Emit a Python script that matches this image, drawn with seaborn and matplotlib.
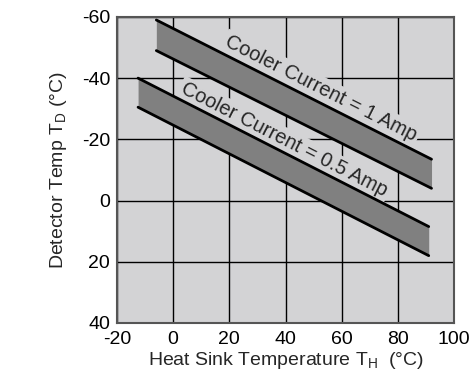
import numpy as np
import pandas as pd
import matplotlib
matplotlib.use("Agg")
import matplotlib.pyplot as plt
import seaborn as sns

# Operating bands: heat sink temperature (x) vs. detector temperature range (y)
band_labels = ["Cooler Current = 1 Amp", "Cooler Current = 0.5 Amp"]
band_x = [[-6, 92], [-12.5, 91]]
band_upper = [[-59, -13.5], [-40, 8.5]]   # colder edge of each band
band_lower = [[-49, -4], [-30.5, 18]]     # warmer edge of each band
label_pos = [(52.5, -36.5), (39.5, -19.8)]

x_ticks = [-20, 0, 20, 40, 60, 80, 100]
y_ticks = [-60, -40, -20, 0, 20, 40]

bg = "#d3d3d5"
fill = "#808080"

sns.set_theme(style="white")
plt.rcParams["font.family"] = ["Liberation Sans", "DejaVu Sans"]
plt.rcParams["mathtext.fontset"] = "custom"
plt.rcParams["mathtext.rm"] = "Liberation Sans"
plt.rcParams["mathtext.it"] = "Liberation Sans"
plt.rcParams["axes.unicode_minus"] = False

fig = plt.figure(figsize=(4.69, 3.76), dpi=100)
ax = fig.add_axes([0.2495, 0.141, 0.7185, 0.814])
ax.set_facecolor(bg)

rows = []
for i, lab in enumerate(band_labels):
    for edge, ys in (("upper", band_upper[i]), ("lower", band_lower[i])):
        for xv, yv in zip(band_x[i], ys):
            rows.append({"band": lab, "edge": edge, "x": xv, "y": yv,
                         "unit": f"{i}-{edge}"})
df = pd.DataFrame(rows)

for i in range(len(band_labels)):
    ax.fill_between(band_x[i], band_upper[i], band_lower[i],
                    color=fill, linewidth=0, zorder=3)

sns.lineplot(data=df, x="x", y="y", units="unit", estimator=None,
             color="black", linewidth=2.0, ax=ax, zorder=4, legend=False)

ax.set_xlim(-20, 100)
ax.set_ylim(40, -60)
ax.set_xticks(x_ticks)
ax.set_yticks(y_ticks)
ax.grid(True, color="black", linewidth=1.0, zorder=1)
ax.set_axisbelow(True)
ax.tick_params(axis="both", length=0, labelsize=14, colors="black")
ax.tick_params(axis="y", pad=5)
ax.tick_params(axis="x", pad=6)
for s in ax.spines.values():
    s.set_color("#555555")
    s.set_linewidth(1.5)

# angle of the band edges in screen space
fig.canvas.draw()
for i, lab in enumerate(band_labels):
    p0 = ax.transData.transform((band_x[i][0], band_upper[i][0]))
    p1 = ax.transData.transform((band_x[i][1], band_upper[i][1]))
    ang = np.degrees(np.arctan2(p1[1] - p0[1], p1[0] - p0[0]))
    ax.text(label_pos[i][0], label_pos[i][1], lab, rotation=ang,
            rotation_mode="anchor", ha="center", va="center", fontsize=14.5,
            zorder=2, bbox=dict(facecolor=bg, edgecolor="none", pad=2))

ax.set_xlabel(r"Heat Sink Temperature T$_{\mathregular{H}}$  (°C)", fontsize=14, labelpad=1)
ax.set_ylabel(r"Detector Temp T$_{\mathregular{D}}$ (°C)", fontsize=14, labelpad=9)

fig.savefig("out.png", dpi=100)
